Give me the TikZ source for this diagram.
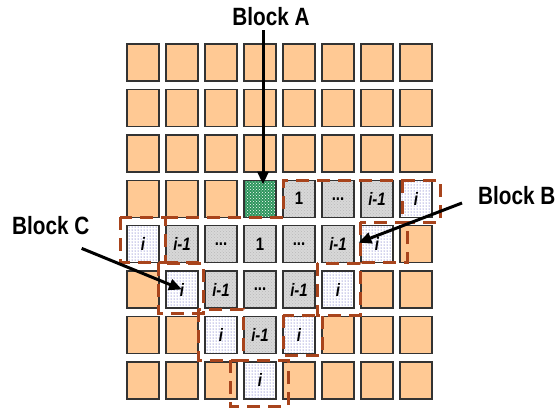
\documentclass[tikz,border=0pt]{standalone}
\usepackage{fontspec}
\setmainfont{Liberation Sans}
\newfontfamily\lblfont{Liberation Sans}[FakeStretch=0.83]
\usetikzlibrary{arrows.meta, patterns, positioning}
\definecolor{mbpeach}{HTML}{FFC994}
\definecolor{mbedge}{HTML}{333333}
\definecolor{mbgray}{HTML}{D8D8D8}
\definecolor{mbgreen}{HTML}{2C955C}
\definecolor{mbdash}{HTML}{A8441C}
\definecolor{mbdot}{HTML}{3C3CB0}

% text of each kind of cell
\newcommand\txtpeach{}
\newcommand\txtblkA{}
\newcommand\txtone{1}
\newcommand\txtell{...}
\newcommand\txtprev{\itshape i-1}
\newcommand\txtwave{\itshape i}

\begin{document}
\begin{tikzpicture}[
    x=1pt, y=-1pt,
    cell/.style={rectangle, draw=mbedge, line width=1.4pt, minimum width=32pt, minimum height=37pt, inner sep=0pt, font=\lblfont\bfseries\fontsize{18}{20}\selectfont},
    peach/.style={fill=mbpeach},
    blkA/.style={preaction={fill=mbgreen}, pattern=crosshatch dots, pattern color=white},
    one/.style={preaction={fill=mbgray}, pattern=crosshatch dots, pattern color=gray!55},
    ell/.style={one},
    prev/.style={one},
    wave/.style={preaction={fill=white}, pattern=dots, pattern color=mbdot},
    tag/.style={font=\lblfont\bfseries\fontsize{25}{28}\selectfont, inner sep=0pt},
    ptr/.style={-{Triangle[length=13pt, width=11pt]}, line width=3pt},
    zone/.style={draw=mbdash, line width=3pt, dash pattern=on 13pt off 8pt}
]
\useasboundingbox (0,0) rectangle (556,410);

% grid of blocks
\foreach \row [count=\r from 0] in {
    {peach,peach,peach,peach,peach,peach,peach,peach},
    {peach,peach,peach,peach,peach,peach,peach,peach},
    {peach,peach,peach,peach,peach,peach,peach,peach},
    {peach,peach,peach,blkA,one,ell,prev,wave},
    {wave,prev,ell,one,ell,prev,wave,peach},
    {peach,wave,prev,ell,prev,wave,peach,peach},
    {peach,peach,wave,prev,wave,peach,peach,peach},
    {peach,peach,peach,wave,peach,peach,peach,peach}}
{
    \foreach \t [count=\c from 0] in \row
        \node[cell, \t] (c\r\c) at (143+39*\c, 62.5+45.4*\r) {\csname txt\t\endcsname};
}

% dashed zones
\foreach \xa/\ya/\xb/\yb in {120/217/165/262, 158/263/203/313, 198/309/243/360, 230/360/288/406,
                             402/180/440/222, 360/222/407/262, 317/263/360/315, 283/315/322/355}
    \draw[zone] (\xa,\ya) rectangle (\xb,\yb);
\draw[zone] (165,217) -- (283,217) -- (283,180) -- (402,180);
\draw[zone] (165,262) -- (207,262);

% labels
\node[tag] (lblA) at (271,17) {Block A};
\node[tag, anchor=west] (lblB) at (478,196) {Block B};
\node[tag, anchor=west] (lblC) at (12,226) {Block C};

\draw[ptr] ([xshift=3pt, yshift=-4pt]lblA.south -| c33.north) -- ([xshift=3pt, yshift=-5pt]c33.north);
\draw[ptr, shorten >=4pt] ([xshift=-16pt, yshift=-7pt]lblB.west) -- (c45.east);
\draw[ptr] ([xshift=-8pt, yshift=-13pt]lblC.south east) -- (c51.center);
\end{tikzpicture}
\end{document}
